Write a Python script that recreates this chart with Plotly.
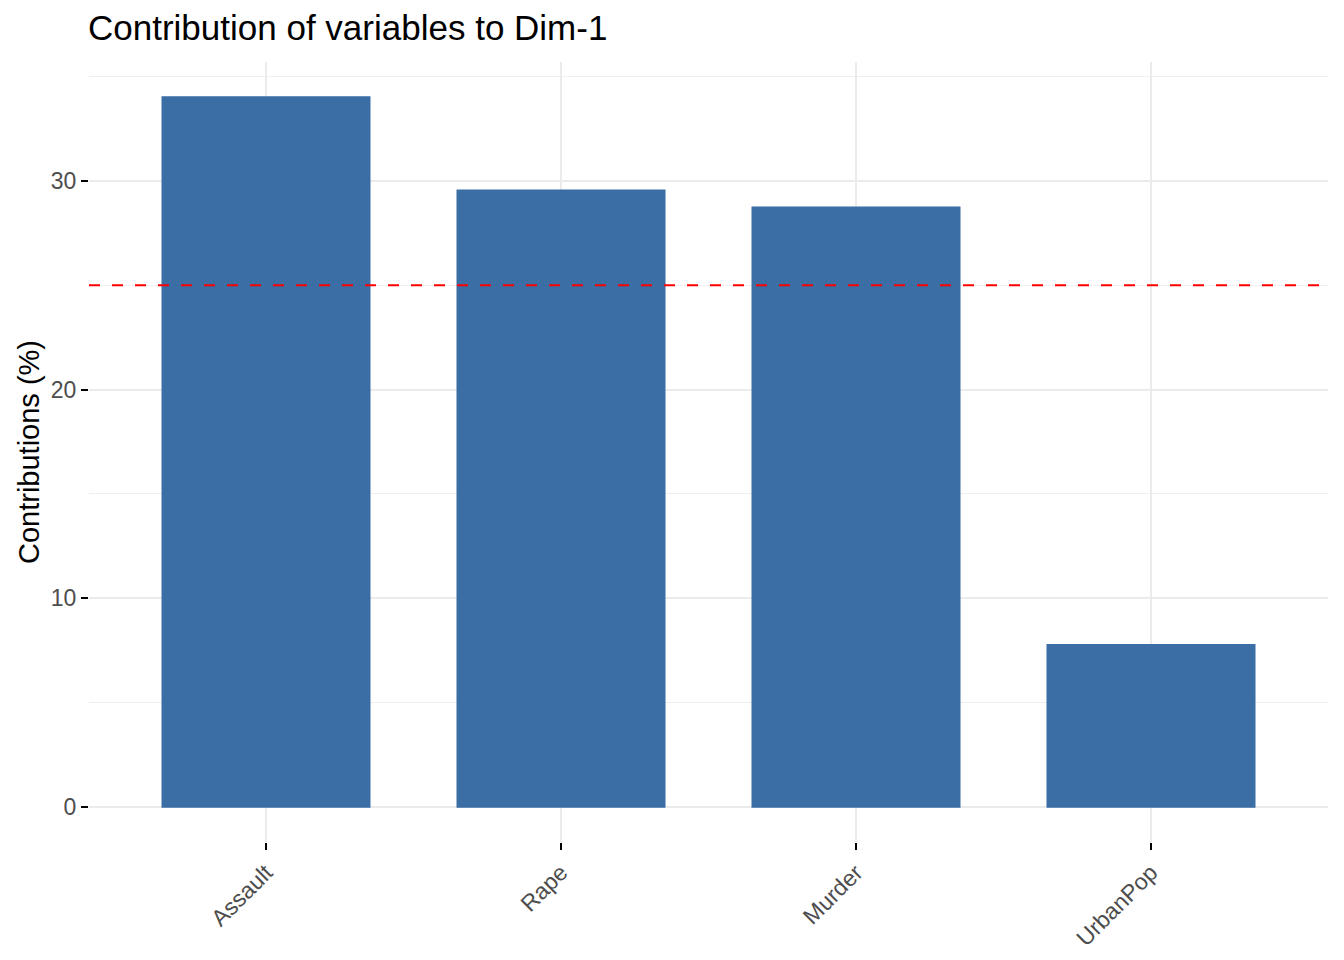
import plotly.graph_objects as go

categories = ["Assault", "Rape", "Murder", "UrbanPop"]
contributions = [34.01, 29.53, 28.72, 7.74]
expected = 25.0
y_ticks = [0, 10, 20, 30]

W, H = 1344, 960
L, R, T, B = 89, 16, 62, 118
FONT = "Liberation Sans, Arial, sans-serif"
BAR = "#3A6EA5"

fig = go.Figure()
fig.add_trace(go.Bar(
    x=categories, y=contributions, width=0.7,
    marker=dict(color=BAR, line=dict(color=BAR, width=2.5)),
    hoverinfo="x+y",
))

fig.add_shape(type="line", xref="paper", yref="y", x0=0, x1=1,
              y0=expected, y1=expected, layer="above",
              line=dict(color="#FF0000", width=2, dash="11px,12px"))

ymax = max(contributions) * 1.05
ymin = -max(contributions) * 0.05

fig.update_layout(
    width=W, height=H,
    margin=dict(l=L, r=R, t=T, b=B),
    paper_bgcolor="white", plot_bgcolor="white",
    showlegend=False,
    font=dict(family=FONT, color="#000000"),
    title=dict(text="Contribution of variables to Dim-1",
               font=dict(size=35, color="#000000", family=FONT),
               x=88 / W, xref="container", xanchor="left",
               y=1 - 28 / H, yref="container", yanchor="middle"),
    xaxis=dict(
        range=[-0.6, 3.6], showgrid=True, gridcolor="#EBEBEB", gridwidth=2,
        zeroline=False, showline=False, automargin=False,
        ticks="outside", ticklen=7, tickwidth=2, tickcolor="#000000",
        tickangle=-45, tickfont=dict(size=23, color="#4D4D4D", family=FONT),
    ),
    yaxis=dict(
        range=[ymin, ymax], tickvals=y_ticks,
        showgrid=True, gridcolor="#EBEBEB", gridwidth=2,
        zeroline=False, showline=False, automargin=False,
        ticks="outside", ticklen=7, tickwidth=2, tickcolor="#000000",
        tickfont=dict(size=23, color="#4D4D4D", family=FONT),
        minor=dict(dtick=5, tick0=0, showgrid=True, gridcolor="#EFEFEF", gridwidth=1, ticks=""),
    ),
    annotations=[dict(
        text="Contributions (%)", textangle=-90,
        xref="paper", yref="paper",
        x=-(L - 29) / (W - L - R), y=0.5,
        xanchor="center", yanchor="middle", showarrow=False,
        font=dict(size=29, color="#000000", family=FONT),
    )],
)

fig.write_html("out.html", config={"displayModeBar": False},
               post_script="document.body.style.margin='0';document.body.style.padding='0';")
